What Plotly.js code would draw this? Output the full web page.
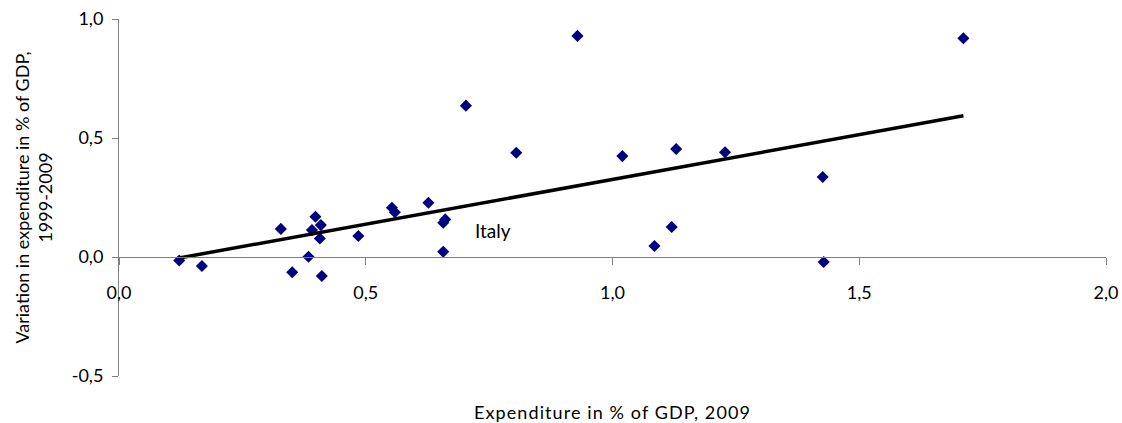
<!DOCTYPE html>
<html>
<head>
<meta charset="utf-8">
<script src="https://cdn.plot.ly/plotly-3.0.1.min.js"></script>
<style>
  html, body { margin: 0; padding: 0; background: #fff; }
  #chart { width: 1122px; height: 423px; }
  #chart .xtitle { letter-spacing: 1.1px; }
</style>
</head>
<body>
<div id="chart"></div>
<script>
// Expenditure in % of GDP (2009) against its change over 1999-2009
const expenditure2009 = [
  0.122, 0.168, 0.328, 0.351, 0.384, 0.398, 0.391, 0.409, 0.407, 0.411,
  0.485, 0.553, 0.559, 0.627, 0.661, 0.657, 0.657, 0.703, 0.805, 0.929,
  1.020, 1.129, 1.228, 1.426, 1.428, 1.085, 1.120, 1.711
];
const variation19992009 = [
  -0.015, -0.038, 0.118, -0.064, 0.001, 0.169, 0.113, 0.134, 0.078, -0.080,
  0.088, 0.207, 0.188, 0.228, 0.158, 0.144, 0.022, 0.636, 0.438, 0.929,
  0.424, 0.454, 0.440, 0.336, -0.021, 0.046, 0.126, 0.919
];
const xTicks = [0, 0.5, 1.0, 1.5, 2.0];
const yTicks = [-0.5, 0, 0.5, 1.0];
const labelText = 'Italy';
const labelPos = [0.717, 0.113];

// tick text with a decimal comma and a plain hyphen for negatives
const fmt = v => v.toFixed(1).replace('.', ',');

// least-squares trend line over the observed range
function linearFit(xs, ys) {
  const n = xs.length;
  const mx = xs.reduce((a, b) => a + b, 0) / n;
  const my = ys.reduce((a, b) => a + b, 0) / n;
  let sxy = 0, sxx = 0;
  for (let i = 0; i < n; i++) {
    sxy += (xs[i] - mx) * (ys[i] - my);
    sxx += (xs[i] - mx) * (xs[i] - mx);
  }
  const slope = sxy / sxx;
  return { slope: slope, intercept: my - slope * mx };
}
const fit = linearFit(expenditure2009, variation19992009);
const xMin = Math.min(...expenditure2009);
const xMax = Math.max(...expenditure2009);
const trendX = [xMin, xMax];
const trendY = trendX.map(v => fit.intercept + fit.slope * v);

const FONT = 'Lato, "Open Sans", sans-serif';
const AXIS_GREY = '#7f7f7f';

const traces = [
  {
    x: expenditure2009,
    y: variation19992009,
    type: 'scatter',
    mode: 'markers',
    marker: { symbol: 'diamond', size: 9.3, color: '#000080', line: { width: 0 } },
    hoverinfo: 'x+y',
    showlegend: false
  },
  {
    x: trendX,
    y: trendY,
    type: 'scatter',
    mode: 'lines',
    line: { color: '#000000', width: 3.5 },
    hoverinfo: 'skip',
    showlegend: false
  }
];

const layout = {
  width: 1122,
  height: 423,
  margin: { l: 119, r: 16, t: 19, b: 47 },
  paper_bgcolor: '#ffffff',
  plot_bgcolor: '#ffffff',
  separators: ',.',
  font: { family: FONT, size: 18, color: '#000000' },
  showlegend: false,
  xaxis: {
    range: [0, 2.0],
    tickvals: xTicks,
    ticktext: xTicks.map(fmt),
    showgrid: false,
    zeroline: false,
    showline: true,
    linecolor: AXIS_GREY,
    linewidth: 1,
    ticks: 'outside',
    ticklen: 7,
    tickcolor: AXIS_GREY,
    tickfont: { family: FONT, size: 18, color: '#000000' },
    ticklabelstandoff: 12,
    anchor: 'free',
    position: 1 / 3,
    title: {
      text: 'Expenditure in % of GDP, 2009',
      font: { family: FONT, size: 18, color: '#000000' },
      standoff: 110
    },
    fixedrange: true
  },
  yaxis: {
    range: [-0.5, 1.0],
    tickvals: yTicks,
    ticktext: yTicks.map(fmt),
    showgrid: false,
    zeroline: false,
    showline: true,
    linecolor: AXIS_GREY,
    linewidth: 1,
    ticks: 'outside',
    ticklen: 6,
    tickcolor: AXIS_GREY,
    tickfont: { family: FONT, size: 18, color: '#000000' },
    ticklabelstandoff: 5,
    title: {
      text: 'Variation in expenditure in % of GDP,<br>1999-2009',
      font: { family: FONT, size: 18, color: '#000000' },
      standoff: 14
    },
    fixedrange: true
  },
  annotations: [
    {
      x: labelPos[0],
      y: labelPos[1],
      xref: 'x',
      yref: 'y',
      text: labelText,
      showarrow: false,
      xanchor: 'left',
      yanchor: 'middle',
      font: { family: FONT, size: 19, color: '#000000' }
    }
  ]
};

Plotly.newPlot('chart', traces, layout, { displayModeBar: false, staticPlot: true });
</script>
</body>
</html>
